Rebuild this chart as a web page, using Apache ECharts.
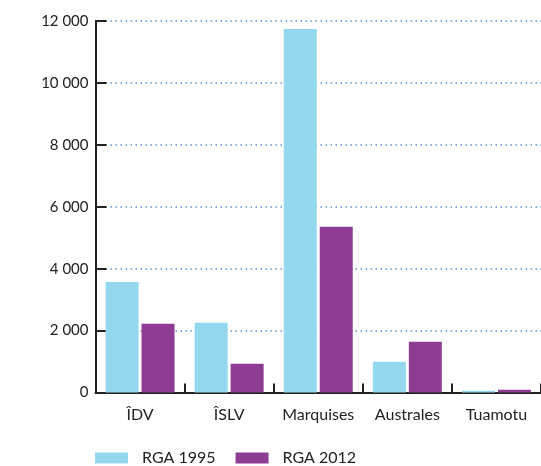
<!DOCTYPE html>
<html><head><meta charset="utf-8">
<script src="https://cdn.jsdelivr.net/npm/echarts@6/dist/echarts.min.js"></script>
<style>html,body{margin:0;padding:0;background:#fff}#c{width:541px;height:466px}</style>
</head><body><div id="c"></div>
<script>
const categories = ['ÎDV', 'ÎSLV', 'Marquises', 'Australes', 'Tuamotu'];
const rga1995 = [3570, 2250, 11740, 990, 55];
const rga2012 = [2220, 930, 5350, 1640, 90];
const seriesNames = ['RGA 1995', 'RGA 2012'];

const chart = echarts.init(document.getElementById('c'), null, {renderer: 'canvas'});
const font = 'Lato';
chart.setOption({
  animation: false,
  grid: {left: 95.5, width: 449, top: 21, height: 371.5, containLabel: false},
  legend: {
    left: 95, top: 450, padding: 0, itemWidth: 33, itemHeight: 11, itemGap: 20,
    icon: 'rect',
    textStyle: {fontFamily: font, fontSize: 16, color: '#222', padding: [0, 0, 0, 9]},
    data: seriesNames
  },
  xAxis: {
    type: 'category', data: categories,
    axisLine: {lineStyle: {color: '#222', width: 2}},
    axisTick: {show: true, interval: 0, inside: true, length: 9, lineStyle: {color: '#222', width: 2}},
    axisLabel: {interval: 0, fontFamily: font, fontSize: 16, color: '#222', margin: 14}
  },
  yAxis: {
    type: 'value', min: 0, max: 12000, interval: 2000,
    axisLine: {show: true, lineStyle: {color: '#222', width: 2}},
    axisTick: {show: true, inside: true, length: 11, lineStyle: {color: '#222', width: 2}},
    axisLabel: {fontFamily: font, fontSize: 15, color: '#222', margin: 7,
      formatter: v => v >= 1000 ? String(Math.floor(v / 1000)) + ' ' + String(v % 1000).padStart(3, '0') : String(v)},
    splitLine: {show: true, lineStyle: {color: '#5b95d8', type: [1.5, 3.5], width: 1.5}}
  },
  series: [
    {name: seriesNames[0], type: 'bar', data: rga1995, barWidth: 33, barGap: '9%',
     itemStyle: {color: '#93d8ee'}},
    {name: seriesNames[1], type: 'bar', data: rga2012, barWidth: 33,
     itemStyle: {color: '#8e3b93'}}
  ]
});
</script></body></html>
